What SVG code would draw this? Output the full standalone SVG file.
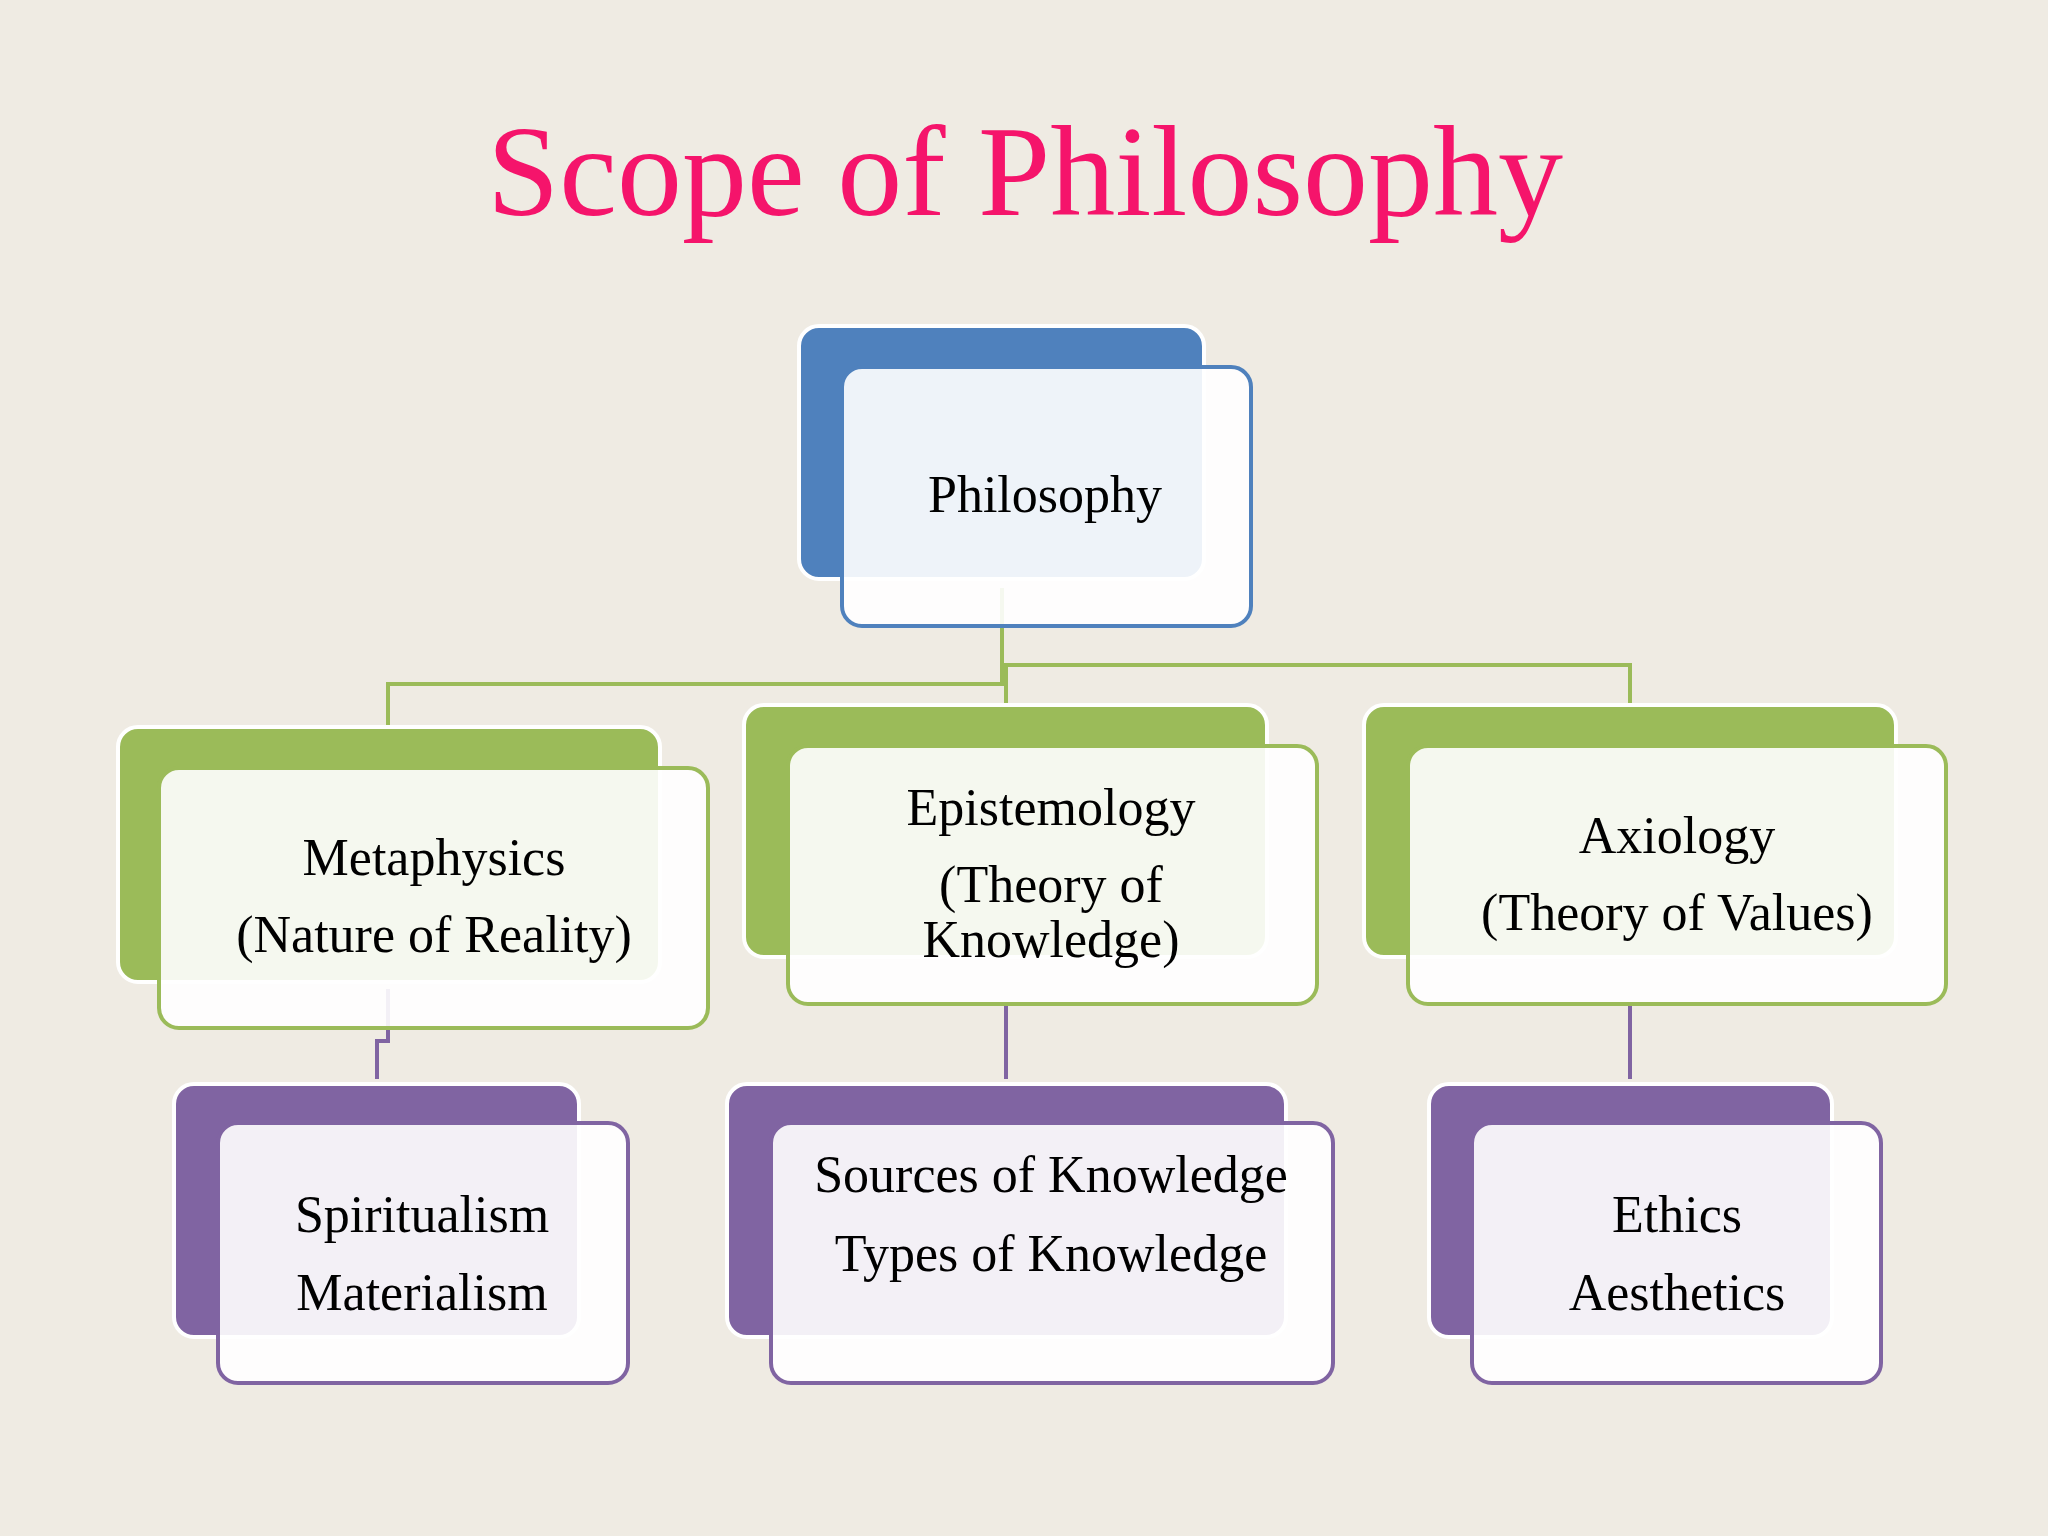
<svg xmlns="http://www.w3.org/2000/svg" width="2048" height="1536" viewBox="0 0 2048 1536">
<style>
.t{font-family:"Liberation Serif","Times New Roman",serif;font-size:52px;fill:#000;text-anchor:middle}
.f{fill:#fff;fill-opacity:0.9;stroke-width:4}
.b{stroke:#fff;stroke-width:4}
.cg{fill:none;stroke:#9BBB59;stroke-width:4}
.cp{fill:none;stroke:#8064A2;stroke-width:4}
</style>
<rect width="2048" height="1536" fill="#EFEBE3"/>
<text x="1025" y="215" font-family="'Liberation Serif','Times New Roman',serif" font-size="130" fill="#F5146B" text-anchor="middle">Scope of Philosophy</text>
<g id="connectors">
<polyline class="cg" points="1002,588 1002,684 388,684 388,725"/>
<polyline class="cg" points="1002,684 1002,665 1630,665 1630,705"/>
<polyline class="cg" points="1006,665 1006,705"/>
<polyline class="cp" points="388,989 388,1041 377,1041 377,1079"/>
<polyline class="cp" points="1006,1006 1006,1079"/>
<polyline class="cp" points="1630,1006 1630,1079"/>
</g>
<g id="philosophy"><rect class="b" x="799" y="326" width="405" height="253" rx="20" fill="#4F81BD"/><rect class="f" x="842" y="367" width="409" height="259" rx="20" stroke="#4F81BD"/><text class="t" x="1045" y="512">Philosophy</text></g>
<g id="metaphysics"><rect class="b" x="118" y="727" width="542" height="255" rx="20" fill="#9BBB59"/><rect class="f" x="159" y="768" width="549" height="260" rx="20" stroke="#9BBB59"/><text class="t" x="434" y="875">Metaphysics</text><text class="t" x="434" y="952">(Nature of Reality)</text></g>
<g id="epistemology"><rect class="b" x="744" y="705" width="523" height="252" rx="20" fill="#9BBB59"/><rect class="f" x="788" y="746" width="529" height="258" rx="20" stroke="#9BBB59"/><text class="t" x="1051" y="825">Epistemology</text><text class="t" x="1051" y="902">(Theory of</text><text class="t" x="1051" y="957">Knowledge)</text></g>
<g id="axiology"><rect class="b" x="1364" y="705" width="532" height="252" rx="20" fill="#9BBB59"/><rect class="f" x="1408" y="746" width="538" height="258" rx="20" stroke="#9BBB59"/><text class="t" x="1677" y="853">Axiology</text><text class="t" x="1677" y="930">(Theory of Values)</text></g>
<g id="spiritualism"><rect class="b" x="174" y="1084" width="405" height="253" rx="20" fill="#8064A2"/><rect class="f" x="218" y="1123" width="410" height="260" rx="20" stroke="#8064A2"/><text class="t" x="422" y="1232">Spiritualism</text><text class="t" x="422" y="1310">Materialism</text></g>
<g id="sources"><rect class="b" x="727" y="1084" width="559" height="253" rx="20" fill="#8064A2"/><rect class="f" x="771" y="1123" width="562" height="260" rx="20" stroke="#8064A2"/><text class="t" x="1051" y="1192">Sources of Knowledge</text><text class="t" x="1051" y="1271">Types of Knowledge</text></g>
<g id="ethics"><rect class="b" x="1429" y="1084" width="403" height="253" rx="20" fill="#8064A2"/><rect class="f" x="1472" y="1123" width="409" height="260" rx="20" stroke="#8064A2"/><text class="t" x="1677" y="1232">Ethics</text><text class="t" x="1677" y="1310">Aesthetics</text></g>
</svg>
